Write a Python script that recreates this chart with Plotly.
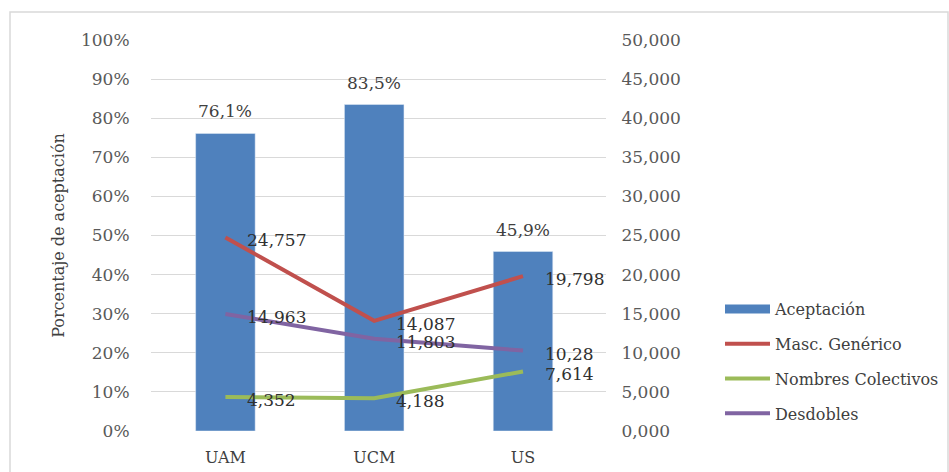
import plotly.graph_objects as go

categories = ["UAM", "UCM", "US"]
aceptacion = [76.1, 83.5, 45.9]
masc_generico = [24.757, 14.087, 19.798]
nombres_colectivos = [4.352, 4.188, 7.614]
desdobles = [14.963, 11.803, 10.28]

bar_labels = ["76,1%", "83,5%", "45,9%"]
masc_labels = ["24,757", "14,087", "19,798"]
colect_labels = ["4,352", "4,188", "7,614"]
desd_labels = ["14,963", "11,803", "10,28"]

left_ticks = list(range(0, 101, 10))
left_ticktext = [f"{v}%" for v in left_ticks]
right_ticks = list(range(0, 51, 5))
right_ticktext = [f"{v},000" for v in right_ticks]

FONT = "DejaVu Serif, serif"
W, H = 949, 472
ML, MR, MT, MB = 151, 343, 40, 41
PW = W - ML - MR
PH = H - MT - MB
BLUE = "#4F81BD"

fig = go.Figure()
fig.add_trace(go.Bar(x=categories, y=aceptacion, name="Aceptación",
                     marker_color=BLUE, showlegend=False))
# legend entry for the bars drawn as a wide rectangle swatch
fig.add_trace(go.Scatter(x=[None], y=[None], name="Aceptación", mode="lines",
                         line=dict(color=BLUE, width=9), legendgroup="a"))
line_specs = [
    ("Masc. Genérico", masc_generico, "#C0504D", "b"),
    ("Nombres Colectivos", nombres_colectivos, "#9BBB59", "c"),
    ("Desdobles", desdobles, "#8064A2", "d"),
]
for name, vals, col, grp in line_specs:
    fig.add_trace(go.Scatter(x=categories, y=vals, name=name, mode="lines",
                             line=dict(color=col, width=4), yaxis="y2",
                             legendgroup=grp))

annotations = []
for c, v, t in zip(categories, aceptacion, bar_labels):
    annotations.append(dict(x=c, y=v, text=t, showarrow=False, xref="x", yref="y",
                            yanchor="bottom", yshift=10,
                            font=dict(family=FONT, size=17, color="#404040")))
for vals, labels in [(masc_generico, masc_labels), (nombres_colectivos, colect_labels),
                     (desdobles, desd_labels)]:
    for c, v, t in zip(categories, vals, labels):
        annotations.append(dict(x=c, y=v, text=t, showarrow=False, xref="x", yref="y2",
                                xanchor="left", xshift=20, yshift=-3,
                                font=dict(family=FONT, size=17, color="#303030")))

fig.update_layout(
    width=W, height=H,
    margin=dict(l=ML, r=MR, t=MT, b=MB, autoexpand=False),
    paper_bgcolor="white", plot_bgcolor="white",
    bargap=0.6,
    font=dict(family=FONT, size=17, color="#595959"),
    xaxis=dict(showgrid=False, showline=False, ticks="outside", ticklen=12,
               tickcolor="rgba(0,0,0,0)", automargin=False,
               tickfont=dict(family=FONT, size=16, color="#404040")),
    yaxis=dict(range=[0, 100], tickvals=left_ticks, ticktext=left_ticktext,
               showgrid=True, gridcolor="#D9D9D9", gridwidth=1, zeroline=False,
               ticks="outside", ticklen=17, tickcolor="rgba(0,0,0,0)", automargin=False,
               title=dict(text="Porcentaje de aceptación", standoff=12,
                          font=dict(family=FONT, size=16, color="#404040"))),
    yaxis2=dict(range=[0, 50], tickvals=right_ticks, ticktext=right_ticktext,
                overlaying="y", side="right", showgrid=False, zeroline=False,
                ticks="outside", ticklen=11, tickcolor="rgba(0,0,0,0)", automargin=False),
    legend=dict(xref="container", yref="container",
                x=720 / W, xanchor="left", y=(H - 292) / H, yanchor="top",
                font=dict(family=FONT, size=16, color="#404040"),
                tracegroupgap=11, itemwidth=45, bgcolor="rgba(0,0,0,0)"),
    annotations=annotations,
    shapes=[dict(type="rect", xref="paper", yref="paper",
                 x0=(10 - ML) / PW, x1=(948 - ML) / PW,
                 y0=-(480 - (H - MB)) / PH,
                 y1=(H - MB - 12) / PH,
                 line=dict(color="#D9D9D9", width=1.5), layer="below")],
    showlegend=True,
)

fig.write_html("out.html")
